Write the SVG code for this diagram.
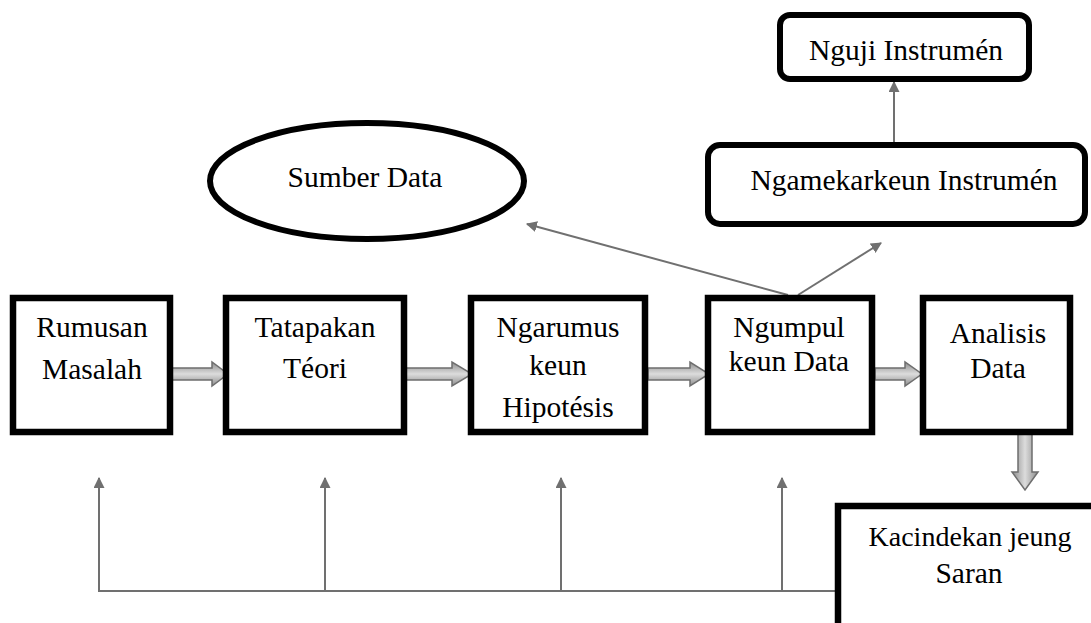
<svg xmlns="http://www.w3.org/2000/svg" width="1091" height="623" viewBox="0 0 1091 623">
<style>
.box{fill:#fff;stroke:#000;stroke-width:6.5}
.rbox{fill:#fff;stroke:#000;stroke-width:6}
.t{font-family:"Liberation Serif","Times New Roman",serif;font-size:29.5px;fill:#000;text-anchor:middle}
.ts{font-size:28px}
.ln{fill:none;stroke:#707070;stroke-width:2}
.blk{fill:url(#gh);stroke:#6e6e6e;stroke-width:1.5}
.blkv{fill:url(#gv);stroke:#6e6e6e;stroke-width:1.5}
</style>
<defs>
<linearGradient id="gh" x1="0" y1="0" x2="0" y2="1">
<stop offset="0" stop-color="#8c8c8c"/><stop offset="0.5" stop-color="#dcdcdc"/><stop offset="1" stop-color="#8c8c8c"/>
</linearGradient>
<linearGradient id="gv" x1="0" y1="0" x2="1" y2="0">
<stop offset="0" stop-color="#8c8c8c"/><stop offset="0.5" stop-color="#dcdcdc"/><stop offset="1" stop-color="#8c8c8c"/>
</linearGradient>
<marker id="ah" viewBox="0 0 10 10" refX="9" refY="5" markerWidth="5.5" markerHeight="5.5" orient="auto" markerUnits="strokeWidth">
<path d="M0,0 L10,5 L0,10 z" fill="#707070"/>
</marker>
</defs>

<g id="connectors">
<path class="ln" d="M99,591 V478" marker-end="url(#ah)"/>
<path class="ln" d="M325,591 V478" marker-end="url(#ah)"/>
<path class="ln" d="M561,591 V478" marker-end="url(#ah)"/>
<path class="ln" d="M782,591 V478" marker-end="url(#ah)"/>
<path class="ln" d="M98,591 H838"/>
<path class="ln" d="M788,295 L527,224" marker-end="url(#ah)"/>
<path class="ln" d="M798,295 L881,243" marker-end="url(#ah)"/>
<path class="ln" d="M894,142 V82" marker-end="url(#ah)"/>
<polygon class="blk" points="172,368 212,368 212,362 228,374 212,386 212,380 172,380"/>
<polygon class="blk" points="406,368 452,368 452,362 472,374 452,386 452,380 406,380"/>
<polygon class="blk" points="648,368 690,368 690,362 709,374 690,386 690,380 648,380"/>
<polygon class="blk" points="875,368 905,368 905,362 922,374 905,386 905,380 875,380"/>
<polygon class="blkv" points="1018,433 1032,433 1032,472 1038,472 1025,490 1012,472 1018,472"/>
</g>

<g id="nguji">
<rect class="rbox" x="780" y="15" width="249" height="64" rx="10"/>
<text class="t" x="906" y="60">Nguji Instrumén</text>
</g>
<g id="ngamekarkeun">
<rect class="rbox" x="708" y="145" width="377" height="79" rx="12"/>
<text class="t" x="904" y="190">Ngamekarkeun Instrumén</text>
</g>
<g id="sumber">
<ellipse cx="367" cy="181" rx="157" ry="58" fill="#fff" stroke="#000" stroke-width="6"/>
<text class="t" x="365" y="187">Sumber Data</text>
</g>
<g id="rumusan">
<rect class="box" x="13" y="298" width="157" height="134"/>
<text class="t" x="92" y="337">Rumusan</text>
<text class="t" x="92" y="379">Masalah</text>
</g>
<g id="tatapakan">
<rect class="box" x="226" y="298" width="178" height="134"/>
<text class="t" x="315" y="337">Tatapakan</text>
<text class="t" x="315" y="378">Téori</text>
</g>
<g id="ngarumus">
<rect class="box" x="471" y="298" width="174" height="134"/>
<text class="t" x="558" y="337">Ngarumus</text>
<text class="t" x="558" y="375">keun</text>
<text class="t" x="558" y="417">Hipotésis</text>
</g>
<g id="ngumpul">
<rect class="box" x="708" y="298" width="164" height="134"/>
<text class="t" x="789" y="337">Ngumpul</text>
<text class="t" x="789" y="371">keun Data</text>
</g>
<g id="analisis">
<rect class="box" x="923" y="298" width="147" height="134"/>
<text class="t" x="998" y="343">Analisis</text>
<text class="t" x="998" y="378">Data</text>
</g>
<g id="kacindekan">
<rect class="box" x="838" y="506" width="300" height="200"/>
<text class="t ts" x="970" y="546">Kacindekan jeung</text>
<text class="t" x="969" y="583">Saran</text>
</g>
</svg>
